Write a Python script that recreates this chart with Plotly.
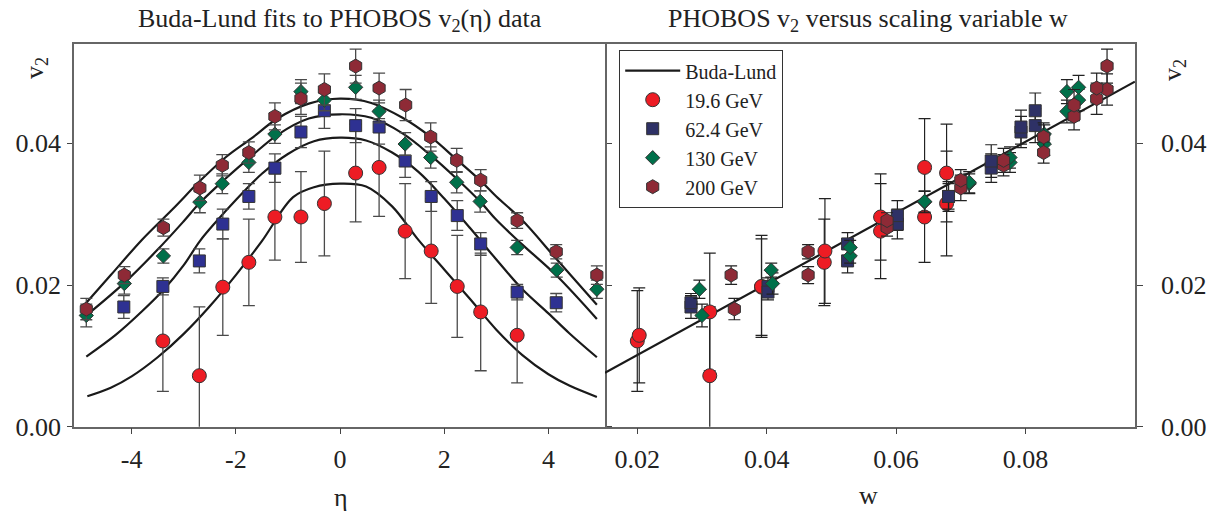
import plotly.graph_objects as go
from plotly.subplots import make_subplots

# ---- data ----
# 19.6 GeV
eta_196 = [-3.4, -2.7, -2.25, -1.75, -1.25, -0.75, -0.3, 0.3, 0.75, 1.25, 1.75, 2.25, 2.7, 3.4]
v2_196 = [0.0121, 0.0072, 0.0197, 0.0232, 0.0296, 0.0296, 0.0315, 0.0358, 0.0366, 0.0276, 0.0248, 0.0198, 0.0162, 0.0129]
err_196 = [0.0071, 0.0097, 0.0068, 0.0061, 0.0061, 0.0064, 0.0074, 0.0069, 0.0069, 0.0067, 0.0074, 0.0072, 0.0083, 0.0067]
w_196 = [0.0200, 0.0312, 0.0392, 0.0489, 0.0576, 0.0644, 0.0678, 0.0678, 0.0644, 0.0576, 0.0490, 0.0392, 0.0312, 0.0203]

# 62.4 GeV
eta_624 = [-4.15, -3.4, -2.7, -2.25, -1.75, -1.25, -0.75, -0.3, 0.3, 0.75, 1.25, 1.75, 2.25, 2.7, 3.4, 4.15]
v2_624 = [0.0169, 0.0198, 0.0234, 0.0286, 0.0325, 0.0365, 0.0416, 0.0446, 0.0425, 0.0423, 0.0375, 0.0325, 0.0298, 0.0258, 0.0190, 0.0175]
err_624 = [0.0016, 0.0012, 0.0017, 0.0021, 0.0018, 0.0020, 0.0022, 0.0025, 0.0024, 0.0024, 0.0023, 0.0021, 0.0021, 0.0016, 0.0011, 0.0013]
w_624 = [0.0283, 0.0402, 0.0525, 0.0602, 0.0681, 0.0747, 0.0793, 0.0815, 0.0815, 0.0793, 0.0747, 0.0681, 0.0602, 0.0525, 0.0402, 0.0283]

# 130 GeV
eta_130 = [-4.87, -4.14, -3.39, -2.69, -2.26, -1.75, -1.25, -0.75, -0.3, 0.3, 0.75, 1.25, 1.74, 2.24, 2.69, 3.4, 4.16, 4.93]
v2_130 = [0.0157, 0.0202, 0.0241, 0.0317, 0.0343, 0.0373, 0.0413, 0.0473, 0.0461, 0.0479, 0.0445, 0.0399, 0.0380, 0.0345, 0.0318, 0.0253, 0.0221, 0.0194]
err_130 = [0.0016, 0.0015, 0.0010, 0.0015, 0.0014, 0.0014, 0.0013, 0.0017, 0.0015, 0.0017, 0.0016, 0.0016, 0.0015, 0.0015, 0.0015, 0.0010, 0.0010, 0.0013]
w_130 = [0.0300, 0.0409, 0.0529, 0.0644, 0.0713, 0.0776, 0.0829, 0.0864, 0.0882, 0.0882, 0.0864, 0.0829, 0.0776, 0.0713, 0.0644, 0.0529, 0.0407, 0.0296]

# 200 GeV
eta_200 = [-4.87, -4.14, -3.39, -2.69, -2.26, -1.75, -1.25, -0.75, -0.3, 0.3, 0.75, 1.26, 1.74, 2.24, 2.7, 3.4, 4.15, 4.93]
v2_200 = [0.0166, 0.0214, 0.0281, 0.0337, 0.0369, 0.0387, 0.0438, 0.0463, 0.0476, 0.0509, 0.0478, 0.0454, 0.0409, 0.0376, 0.0348, 0.0291, 0.0247, 0.0214]
err_200 = [0.0015, 0.0012, 0.0012, 0.0018, 0.0015, 0.0015, 0.0019, 0.0022, 0.0022, 0.0024, 0.0021, 0.0022, 0.0020, 0.0017, 0.0015, 0.0011, 0.0010, 0.0013]
w_200 = [0.0350, 0.0464, 0.0586, 0.0700, 0.0766, 0.0828, 0.0875, 0.0910, 0.0926, 0.0926, 0.0910, 0.0875, 0.0828, 0.0766, 0.0700, 0.0586, 0.0464, 0.0345]

# Buda-Lund curves v2(eta)
fit_eta_196 = [-4.85, -4.4, -4.0, -3.5, -3.0, -2.5, -2.0, -1.5, -0.9, -0.5, 0.0, 0.5, 1.0, 1.5, 2.0, 2.5, 3.0, 3.5, 4.0, 4.4, 4.93]
fit_v2_196 = [0.0043, 0.0055, 0.0071, 0.0098, 0.0131, 0.0170, 0.0214, 0.0262, 0.0324, 0.0338, 0.0343, 0.0339, 0.0311, 0.0264, 0.0222, 0.0180, 0.0137, 0.0101, 0.0074, 0.0058, 0.0042]
fit_eta_624 = [-4.87, -4.3, -3.8, -3.39, -3.0, -2.69, -2.37, -2.0, -1.5, -1.0, -0.5, 0.0, 0.5, 1.0, 1.5, 2.0, 2.5, 3.0, 3.5, 4.0, 4.4, 4.93]
fit_v2_624 = [0.0099, 0.0130, 0.0163, 0.0193, 0.0228, 0.0262, 0.0290, 0.0320, 0.0357, 0.0385, 0.0403, 0.0408, 0.0404, 0.0387, 0.0360, 0.0322, 0.0280, 0.0236, 0.0194, 0.0160, 0.0132, 0.0098]
fit_eta_130 = [-4.87, -4.14, -3.5, -3.0, -2.69, -2.2, -1.7, -1.2, -0.6, 0.0, 0.6, 1.2, 1.74, 2.24, 2.7, 3.0, 3.5, 4.16, 4.93]
fit_v2_130 = [0.0157, 0.0203, 0.0250, 0.0290, 0.0316, 0.0350, 0.0382, 0.0412, 0.0435, 0.0441, 0.0436, 0.0414, 0.0383, 0.0350, 0.0317, 0.0292, 0.0257, 0.0213, 0.0152]
fit_eta_200 = [-4.87, -4.4, -3.8, -3.2, -2.7, -2.2, -1.7, -1.2, -0.6, 0.0, 0.6, 1.2, 1.74, 2.24, 2.7, 3.0, 3.49, 4.15, 4.93]
fit_v2_200 = [0.0175, 0.0214, 0.0264, 0.0308, 0.0346, 0.0380, 0.0407, 0.0435, 0.0456, 0.0463, 0.0457, 0.0436, 0.0409, 0.0377, 0.0347, 0.0325, 0.0292, 0.0237, 0.0172]

# Buda-Lund straight line in w
fit_w = [0.0150, 0.0969]
fit_v2_w = [0.0076, 0.0487]

eta_ticks = [-4, -2, 0, 2, 4]
eta_ticktext = ["-4", "-2", "0", "2", "4"]
w_ticks = [0.02, 0.04, 0.06, 0.08]
v2_ticks = [0.0, 0.02, 0.04]

# page body has an 8px margin, so the figure is a little smaller and all
# positions below are measured in window pixels
OFF = 8
W, H = 1223 - OFF, 514 - OFF
FONT = "Liberation Serif, Times New Roman, serif"


def px(x):
    return (x - OFF) / W


def py(y):
    return 1 - (y - OFF) / H


series = [
    ("19.6 GeV", eta_196, v2_196, err_196, w_196, "circle", 14, "#ED1C24", "#ED1C24"),
    ("62.4 GeV", eta_624, v2_624, err_624, w_624, "square", 12, "#2E3192", "#2E3166"),
    ("130 GeV", eta_130, v2_130, err_130, w_130, "diamond", 11, "#00704A", "#00704A"),
    ("200 GeV", eta_200, v2_200, err_200, w_200, "hexagon", 14, "#8E2A36", "#8E2A36"),
]
fits = [(fit_eta_196, fit_v2_196), (fit_eta_624, fit_v2_624),
        (fit_eta_130, fit_v2_130), (fit_eta_200, fit_v2_200)]

fig = make_subplots(rows=1, cols=2)

# curves first so the markers sit on top
for fx, fy in fits:
    fig.add_trace(go.Scatter(x=fx, y=fy, mode="lines", line=dict(color="#1a1a1a", width=2.2, shape="spline"),
                             showlegend=False, hoverinfo="skip"), row=1, col=1)
fig.add_trace(go.Scatter(x=fit_w, y=fit_v2_w, mode="lines", name="Buda-Lund",
                         line=dict(color="#1a1a1a", width=2.2)), row=1, col=2)

for name, eta, v2, err, w, sym, size, col_l, col_r in series:
    fig.add_trace(go.Scatter(x=eta, y=v2, mode="markers", showlegend=False,
                             error_y=dict(type="data", array=err, color="#4a4a4a", thickness=1.3, width=6),
                             marker=dict(symbol=sym, size=size, color=col_l,
                                         line=dict(color="#333333", width=1))), row=1, col=1)
    fig.add_trace(go.Scatter(x=w, y=v2, mode="markers", name=name,
                             error_y=dict(type="data", array=err, color="#222222", thickness=1.2, width=6),
                             marker=dict(symbol=sym, size=size, color=col_r,
                                         line=dict(color="#333333", width=1))), row=1, col=2)

x0, xm, x1 = px(74), px(605), px(1135)
yb, yt = py(426.7), py(44)
tick_font = dict(family=FONT, size=26, color="#222222")
axis_common = dict(showline=True, linecolor="#666666", linewidth=1.5, ticks="outside",
                   tickcolor="#444444", tickwidth=1.2, showgrid=False, zeroline=False,
                   tickfont=tick_font, automargin=False)

fig.update_layout(
    width=W, height=H,
    margin=dict(l=0, r=0, t=0, b=0),
    paper_bgcolor="white", plot_bgcolor="white",
    font=dict(family=FONT, color="#222222"),
    xaxis=dict(domain=[x0, xm], range=[-5.106, 5.086], tickvals=eta_ticks, ticktext=eta_ticktext,
               mirror=True, ticklen=6, ticklabelstandoff=2, **axis_common),
    yaxis=dict(domain=[yb, yt], range=[0, 0.05402], tickvals=v2_ticks, tickformat=".2f",
               mirror="ticks", ticklen=5, ticklabelstandoff=1, **axis_common),
    xaxis2=dict(domain=[xm, x1], range=[0.01501, 0.09692], tickvals=w_ticks, tickformat=".2f",
                mirror=True, ticklen=6, ticklabelstandoff=2, **axis_common),
    yaxis2=dict(domain=[yb, yt], range=[0, 0.05402], tickvals=v2_ticks, tickformat=".2f",
                side="right", mirror=False, ticklen=6, ticklabelstandoff=13, **axis_common),
    legend=dict(x=px(619), y=py(50), xanchor="left", yanchor="top", itemwidth=55,
                bgcolor="white", bordercolor="#333333", borderwidth=1.2,
                font=dict(family=FONT, size=20, color="#222222")),
    annotations=[
        dict(text="Buda-Lund fits to PHOBOS v<sub>2</sub>(η) data", x=px(340), y=py(20),
             xanchor="center", yanchor="middle", font=dict(family=FONT, size=26)),
        dict(text="PHOBOS v<sub>2</sub> versus scaling variable w", x=px(868), y=py(20),
             xanchor="center", yanchor="middle", font=dict(family=FONT, size=26)),
        dict(text="η", x=px(341), y=py(497), xanchor="center", yanchor="middle",
             font=dict(family=FONT, size=26)),
        dict(text="w", x=px(868), y=py(495), xanchor="center", yanchor="middle",
             font=dict(family=FONT, size=26)),
        dict(text="v<sub>2</sub>", x=px(36), y=py(68), xanchor="center", yanchor="middle",
             textangle=-90, font=dict(family=FONT, size=26)),
        dict(text="v<sub>2</sub>", x=px(1174), y=py(70), xanchor="center", yanchor="middle",
             textangle=-90, font=dict(family=FONT, size=26)),
    ],
)
fig.update_annotations(xref="paper", yref="paper", showarrow=False)

fig.write_html("out.html")
